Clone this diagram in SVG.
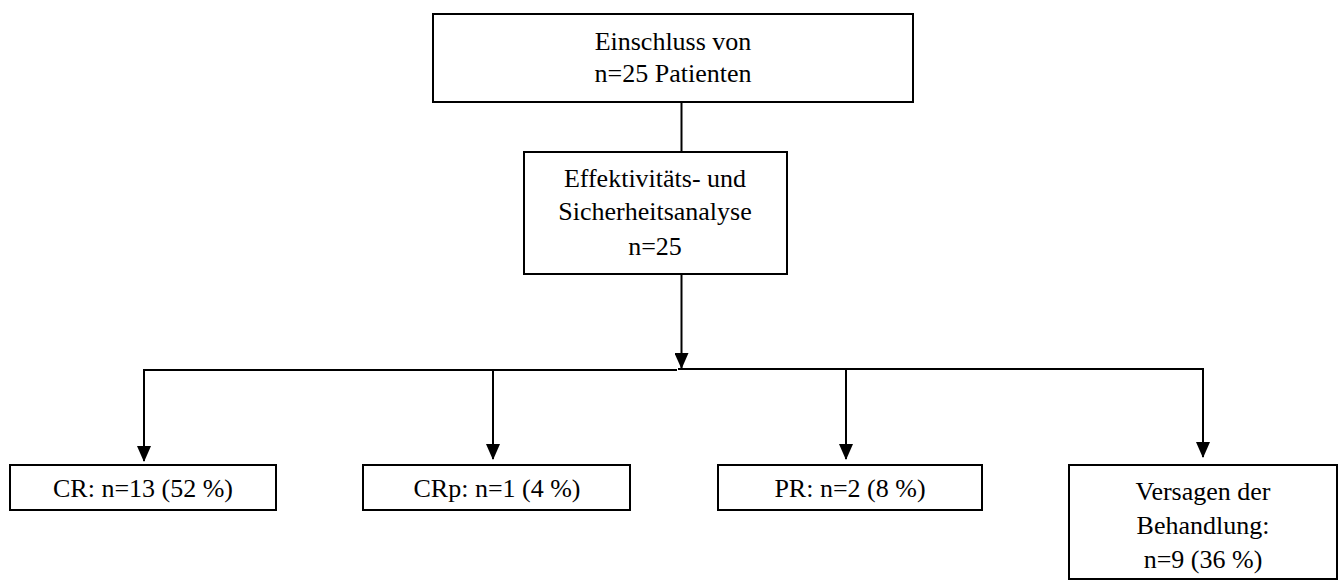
<svg xmlns="http://www.w3.org/2000/svg" width="1341" height="580" viewBox="0 0 1341 580">
  <style>
    .box { fill: #ffffff; stroke: #000000; stroke-width: 2; }
    .lbl { font-family: "Liberation Serif", "Times New Roman", serif; font-size: 26px; fill: #000000; text-anchor: middle; }
    .wire { fill: none; stroke: #000000; stroke-width: 2; }
  </style>
  <defs>
    <!-- solid triangular head, drawn along +x so orient="auto" follows the line -->
    <marker id="arrow" viewBox="0 0 16 14" refX="15" refY="7" markerWidth="16" markerHeight="14" markerUnits="userSpaceOnUse" orient="auto">
      <path d="M0,0 L16,7 L0,14 Z" fill="#000000"/>
    </marker>
  </defs>

  <rect x="0" y="0" width="1341" height="580" fill="#ffffff"/>

  <!-- connectors -->
  <g id="connectors">
    <line class="wire" x1="681.5" y1="102" x2="681.5" y2="152"/>
    <line class="wire" x1="681.5" y1="274" x2="681.5" y2="368" marker-end="url(#arrow)"/>
    <line class="wire" x1="143" y1="370" x2="677" y2="370"/>
    <line class="wire" x1="678" y1="369" x2="1204" y2="369"/>
    <line class="wire" x1="144" y1="370" x2="144" y2="461" marker-end="url(#arrow)"/>
    <line class="wire" x1="493" y1="370" x2="493" y2="459" marker-end="url(#arrow)"/>
    <line class="wire" x1="846" y1="369" x2="846" y2="459" marker-end="url(#arrow)"/>
    <line class="wire" x1="1203" y1="369" x2="1203" y2="457" marker-end="url(#arrow)"/>
  </g>

  <!-- enrolment -->
  <g id="enrolment">
    <rect class="box" x="433" y="14" width="480" height="88"/>
    <text class="lbl" x="673" y="50">Einschluss von</text>
    <text class="lbl" x="673" y="82">n=25 Patienten</text>
  </g>

  <!-- analysis -->
  <g id="analysis">
    <rect class="box" x="524" y="152" width="263" height="122"/>
    <text class="lbl" x="655" y="187">Effektivitäts- und</text>
    <text class="lbl" x="655" y="220">Sicherheitsanalyse</text>
    <text class="lbl" x="655" y="255">n=25</text>
  </g>

  <!-- outcomes -->
  <g id="cr">
    <rect class="box" x="10" y="465" width="266" height="45"/>
    <text class="lbl" x="143" y="497">CR: n=13 (52 %)</text>
  </g>
  <g id="crp">
    <rect class="box" x="363" y="465" width="267" height="45"/>
    <text class="lbl" x="497" y="497">CRp: n=1 (4 %)</text>
  </g>
  <g id="pr">
    <rect class="box" x="718" y="465" width="264" height="45"/>
    <text class="lbl" x="850" y="497">PR: n=2 (8 %)</text>
  </g>
  <g id="failure">
    <rect class="box" x="1069" y="465" width="268" height="114"/>
    <text class="lbl" x="1203" y="500">Versagen der</text>
    <text class="lbl" x="1203" y="534">Behandlung:</text>
    <text class="lbl" x="1203" y="568">n=9 (36 %)</text>
  </g>
</svg>
